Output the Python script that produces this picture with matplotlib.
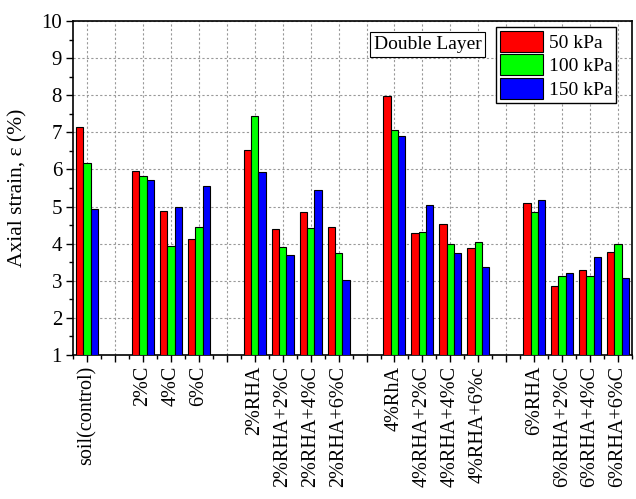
import numpy as np
import matplotlib.pyplot as plt
from matplotlib.ticker import MultipleLocator

plt.rcParams['font.family'] = ['Liberation Serif', 'DejaVu Serif']
plt.rcParams['mathtext.fontset'] = 'stix'

# category slots (empty strings leave a gap between groups)
labels = ['soil(control)', '', '2%C', '4%C', '6%C', '',
          '2%RHA', '2%RHA+2%C', '2%RHA+4%C', '2%RHA+6%C', '',
          '4%RhA', '4%RHA+2%C', '4%RHA+4%C', '4%RHA+6%c', '',
          '6%RHA', '6%RHA+2%C', '6%RHA+4%C', '6%RHA+6%C']
pos = [1, 3, 4, 5, 7, 8, 9, 10, 12, 13, 14, 15, 17, 18, 19, 20]

s50 = [7.13, 5.95, 4.89, 4.12, 6.51, 4.39, 4.84, 4.46,
       7.97, 4.29, 4.54, 3.88, 5.09, 2.87, 3.30, 3.77]
s100 = [6.18, 5.83, 3.95, 4.44, 7.43, 3.91, 4.42, 3.76,
        7.06, 4.32, 4.00, 4.04, 4.85, 3.12, 3.12, 3.99]
s150 = [4.94, 5.71, 5.00, 5.55, 5.92, 3.69, 5.45, 3.01,
        6.90, 5.04, 3.76, 3.37, 5.17, 3.20, 3.64, 3.08]

fig = plt.figure(figsize=(6.36, 4.99), dpi=100)
ax = fig.add_axes([0.115, 0.2886, 0.8787, 0.6694])

x = np.array(pos, dtype=float)
w = 0.262
base = 1
for off, vals, col, name in [(-w, s50, '#ff0000', '50 kPa'),
                             (0, s100, '#00ff00', '100 kPa'),
                             (w, s150, '#0000ff', '150 kPa')]:
    ax.bar(x + off, np.array(vals) - base, w, bottom=base, color=col,
           edgecolor='black', linewidth=0.8, label=name, zorder=3)

ax.set_xlim(0.5, 20.5)
ax.set_ylim(1, 10)
ax.set_xticks(np.arange(1, 21))
ax.set_xticklabels(labels, rotation=90, fontsize=14.5)
ax.xaxis.set_minor_locator(MultipleLocator(0.5))
ax.yaxis.set_major_locator(MultipleLocator(1))
ax.yaxis.set_minor_locator(MultipleLocator(0.5))
ax.tick_params(axis='both', which='major', direction='out', length=5,
               width=1, pad=3)
ax.tick_params(axis='y', which='major', labelsize=15)
ax.tick_params(axis='both', which='minor', direction='out', length=3, width=1)
ax.grid(True, which='major', color='#999999', linestyle=(0, (2, 2)),
        linewidth=0.8, zorder=0)
ax.set_axisbelow(True)
for sp in ax.spines.values():
    sp.set_linewidth(1.2)

ax.set_ylabel('Axial strain, ε (%)', fontsize=15.5, labelpad=10)

leg = ax.legend(loc='upper right', bbox_to_anchor=(0.972, 0.983),
                fontsize=14, fancybox=False, edgecolor='black',
                handlelength=2.2, handleheight=1.3, handletextpad=0.3,
                labelspacing=0.12, borderpad=0.2, borderaxespad=0,
                framealpha=1)
leg.get_frame().set_linewidth(1.0)

ax.text(0.538, 0.93, 'Double Layer', transform=ax.transAxes, fontsize=14,
        ha='left', va='center', zorder=5,
        bbox=dict(boxstyle='square,pad=0.2', facecolor='white',
                  edgecolor='black', linewidth=0.8))

fig.savefig('out.png', dpi=100)
